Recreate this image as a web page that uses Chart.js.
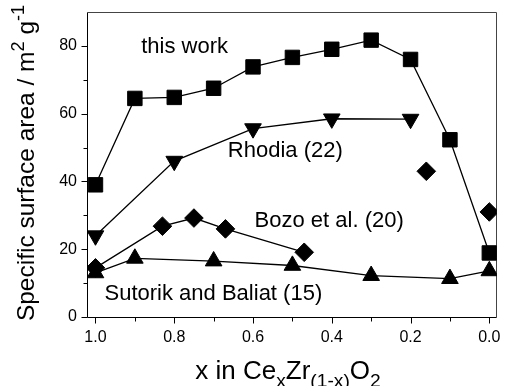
<!DOCTYPE html>
<html>
<head>
<meta charset="utf-8">
<script src="https://cdn.jsdelivr.net/npm/chart.js@4/dist/chart.umd.min.js"></script>
<style>
  html, body { margin: 0; padding: 0; background: #fff; }
  #wrap { width: 508px; height: 386px; }
</style>
</head>
<body>
<div id="wrap"><canvas id="c" width="508" height="386"></canvas></div>
<script>
// Specific surface area (m2/g) versus x in CexZr(1-x)O2
const xThisWork = [1.0, 0.9, 0.8, 0.7, 0.6, 0.5, 0.4, 0.3, 0.2, 0.1, 0.0];
const yThisWork = [39, 64.5, 64.8, 67.5, 73.8, 76.6, 79, 81.7, 76, 52.3, 18.9];

const xRhodia = [1.0, 0.8, 0.6, 0.4, 0.2];
const yRhodia = [24, 46, 55.6, 58.5, 58.4];

const xBozo = [1.0, 0.83, 0.75, 0.67, 0.47];
const yBozo = [14.5, 26.8, 29.2, 26, 19.1];
const xBozoSingle = [0.16, 0.0];
const yBozoSingle = [43, 31];

const xSutorik = [1.0, 0.9, 0.7, 0.5, 0.3, 0.1, 0.0];
const ySutorik = [13, 17.3, 16.5, 15.2, 12.2, 11.3, 13.6];

const xTicks = [1.0, 0.8, 0.6, 0.4, 0.2, 0.0];
const xMinorTicks = [0.9, 0.7, 0.5, 0.3, 0.1];
const yTicks = [0, 20, 40, 60, 80];
const yMinorTicks = [10, 30, 50, 70];

const seriesNames = ['this work', 'Rhodia (22)', 'Bozo et al. (20)', 'Sutorik and Baliat (15)'];

const FONT = '"Liberation Sans", Arial, Helvetica, sans-serif';

function pts(xs, ys) { return xs.map((x, i) => ({ x: x, y: ys[i] })); }

function richWidth(ctx, parts, size) {
  let w = 0;
  for (const p of parts) {
    const fs = (p.sub || p.sup) ? size * 0.74 : size;
    ctx.font = fs + 'px ' + FONT;
    w += ctx.measureText(p.t).width;
  }
  return w;
}
function drawRich(ctx, parts, size, x, y) {
  let cx = x;
  for (const p of parts) {
    const fs = (p.sub || p.sup) ? size * 0.74 : size;
    ctx.font = fs + 'px ' + FONT;
    const dy = p.sub ? size * 0.3 : (p.sup ? -size * 0.42 : 0);
    ctx.fillText(p.t, cx, y + dy);
    cx += ctx.measureText(p.t).width;
  }
}

const xTitle = [{ t: 'x in Ce' }, { t: 'x', sub: true }, { t: 'Zr' }, { t: '(1-x)', sub: true }, { t: 'O' }, { t: '2', sub: true }];
const yTitle = [{ t: 'Specific surface area / m' }, { t: '2', sup: true }, { t: ' g' }, { t: '-1', sup: true }];

// frame, outward ticks, axis titles and series captions
const decor = {
  id: 'decor',
  beforeDatasetsDraw(chart) {
    const { ctx, chartArea: a, scales } = chart;
    const sx = scales.x, sy = scales.y;
    const L = Math.round(a.left) - 0.5, R = Math.round(a.right) - 0.5;
    const T = Math.round(a.top) + 0.5, B = Math.round(a.bottom) + 0.5;
    ctx.save();
    ctx.lineWidth = 1;
    ctx.strokeStyle = '#444';
    ctx.beginPath();
    ctx.moveTo(L, T); ctx.lineTo(R, T); ctx.lineTo(R, B);
    ctx.stroke();
    ctx.strokeStyle = '#000';
    ctx.beginPath();
    ctx.moveTo(L, T); ctx.lineTo(L, B); ctx.lineTo(R, B);
    xTicks.forEach(v => { const p = Math.round(sx.getPixelForValue(v)) + 0.5; ctx.moveTo(p, B); ctx.lineTo(p, B + 6); });
    xMinorTicks.forEach(v => { const p = Math.round(sx.getPixelForValue(v)) + 0.5; ctx.moveTo(p, B); ctx.lineTo(p, B + 4); });
    yTicks.forEach(v => { const p = Math.round(sy.getPixelForValue(v)) + 0.5; ctx.moveTo(L, p); ctx.lineTo(L - 6, p); });
    yMinorTicks.forEach(v => { const p = Math.round(sy.getPixelForValue(v)) + 0.5; ctx.moveTo(L, p); ctx.lineTo(L - 4, p); });
    ctx.stroke();
    ctx.restore();
  },
  afterDraw(chart) {
    const { ctx, scales } = chart;
    const sx = scales.x, sy = scales.y;
    ctx.save();
    ctx.fillStyle = '#000';
    ctx.textBaseline = 'alphabetic';
    ctx.textAlign = 'left';
    // series captions
    ctx.font = '22px ' + FONT;
    const captions = [
      [seriesNames[0], 0.884, 77.8],
      [seriesNames[1], 0.664, 47.3],
      [seriesNames[2], 0.596, 26.7],
      [seriesNames[3], 0.977, 5.1]
    ];
    captions.forEach(c => ctx.fillText(c[0], sx.getPixelForValue(c[1]), sy.getPixelForValue(c[2])));
    // x axis title
    const xsize = 26;
    const xw = richWidth(ctx, xTitle, xsize);
    drawRich(ctx, xTitle, xsize, 288 - xw / 2, 379);
    // y axis title
    const ysize = 24.5;
    const yw = richWidth(ctx, yTitle, ysize);
    ctx.translate(34, 163);
    ctx.rotate(-Math.PI / 2);
    drawRich(ctx, yTitle, ysize, -yw / 2, 0);
    ctx.restore();
  }
};

const lineStyle = { showLine: true, borderColor: '#000', borderWidth: 1.3, backgroundColor: '#000',
  pointBackgroundColor: '#000', pointBorderColor: '#000', pointBorderWidth: 1 };

new Chart(document.getElementById('c'), {
  type: 'scatter',
  data: {
    datasets: [
      Object.assign({ label: seriesNames[0], data: pts(xThisWork, yThisWork), pointStyle: 'rect', pointRadius: 10.2 }, lineStyle),
      Object.assign({ label: seriesNames[1], data: pts(xRhodia, yRhodia), pointStyle: 'triangle', pointRotation: 180, pointRadius: 9.6 }, lineStyle),
      Object.assign({ label: seriesNames[2], data: pts(xBozo, yBozo), pointStyle: 'rectRot', pointRadius: 9.3 }, lineStyle),
      Object.assign({ label: seriesNames[2] + ' *', data: pts(xBozoSingle, yBozoSingle), pointStyle: 'rectRot', pointRadius: 9.3 }, lineStyle, { showLine: false }),
      Object.assign({ label: seriesNames[3], data: pts(xSutorik, ySutorik), pointStyle: 'triangle', pointRadius: 9.6 }, lineStyle)
    ]
  },
  options: {
    responsive: false,
    animation: false,
    events: [],
    layout: { padding: { top: 12, right: 4, left: 0, bottom: 0 } },
    plugins: { legend: { display: false }, tooltip: { enabled: false } },
    scales: {
      x: {
        type: 'linear', reverse: true, min: -0.019, max: 1.019,
        grid: { display: false, drawTicks: false }, border: { display: false },
        afterBuildTicks: s => { s.ticks = xTicks.map(v => ({ value: v })); },
        afterFit: s => { s.height = 69; s.paddingLeft = 0; s.paddingRight = 0; },
        ticks: { autoSkip: false, maxRotation: 0, padding: 11, color: '#000',
          font: { family: FONT, size: 16 }, callback: v => Number(v).toFixed(1) }
      },
      y: {
        type: 'linear', min: 0, max: 90,
        grid: { display: false, drawTicks: false }, border: { display: false },
        afterBuildTicks: s => { s.ticks = yTicks.map(v => ({ value: v })); },
        afterFit: s => { s.width = 88; s.paddingTop = 0; s.paddingBottom = 0; },
        ticks: { padding: 11, color: '#000', font: { family: FONT, size: 16 },
          callback: v => String(v) }
      }
    }
  },
  plugins: [decor]
});
</script>
</body>
</html>
